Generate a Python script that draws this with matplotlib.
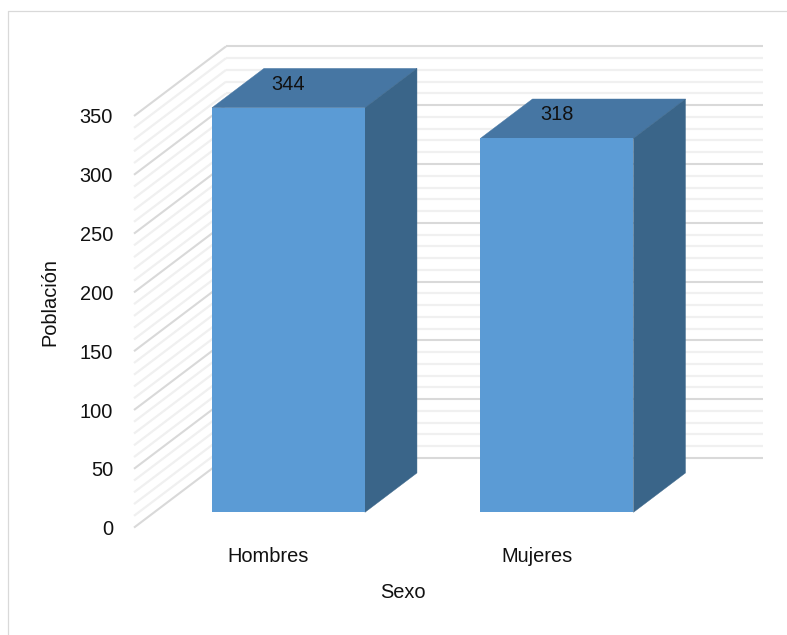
import matplotlib
matplotlib.use('Agg')
import matplotlib.pyplot as plt
from matplotlib.lines import Line2D
import numpy as np

categories = ['Hombres', 'Mujeres']
values = [344, 318]
yticks = [0, 50, 100, 150, 200, 250, 300, 350]

W, H = 787, 635
plt.rcParams['font.family'] = ['Liberation Sans Narrow', 'Liberation Sans', 'DejaVu Sans']
plt.rcParams['font.size'] = 14.4

fig = plt.figure(figsize=(W / 100, H / 100), dpi=100)
# front plane of the fake 3D box, in reference pixels
left, right, top, bottom = 134, 671, 116, 527.6
ax = fig.add_axes([left / W, 1 - bottom / H, (right - left) / W, (bottom - top) / H])
ax.set_xlim(-0.5, 1.5)
ax.set_ylim(0, 350)

# oblique depth: one full depth step in data units
px_per_cat = (right - left) / 2
px_per_val = (bottom - top) / 350
DX = 92 / px_per_cat
DY = 69.6 / px_per_val

grey_major = '#d9d9d9'
grey_minor = '#f0f0f0'

# Walls
for v in range(0, 351, 10):
    major = v % 50 == 0
    color = grey_major if major else grey_minor
    lw = 1.5 if major else 1.6
    # side wall
    ax.plot([-0.5, -0.5 + DX], [v, v + DY], color=color, lw=lw, clip_on=False, zorder=2 if major else 1,
            solid_capstyle='butt')
    # back wall
    ax.plot([-0.5 + DX, 1.5 + DX], [v + DY, v + DY], color=color, lw=lw, clip_on=False, zorder=2 if major else 1,
            solid_capstyle='butt')

# Bars
d0 = 0.22
d1 = 0.785
bw = 153 / px_per_cat
xs = np.arange(len(categories))
front = '#5b9bd5'
topc = '#4676a3'
side = '#3a6589'

for x, v in zip(xs, values):
    xl = x - bw / 2
    xr = x + bw / 2
    # top face
    ax.fill([xl + d0 * DX, xr + d0 * DX, xr + d1 * DX, xl + d1 * DX],
            [v + d0 * DY, v + d0 * DY, v + d1 * DY, v + d1 * DY],
            fc=topc, ec=topc, lw=0.3, clip_on=False, zorder=3)
    # side face
    ax.fill([xr + d0 * DX, xr + d1 * DX, xr + d1 * DX, xr + d0 * DX],
            [d0 * DY, d1 * DY, v + d1 * DY, v + d0 * DY],
            fc=side, ec=side, lw=0.3, clip_on=False, zorder=3)

ax.bar(xs + d0 * DX, values, width=bw, bottom=d0 * DY, color=front, clip_on=False, zorder=4)

# Data labels
for x, v in zip(xs, values):
    ax.annotate(str(v), xy=(x + d0 * DX, v + d0 * DY), xytext=(0, 17), textcoords='offset points',
                ha='center', va='center', color='#111111', annotation_clip=False, zorder=5)

# Tweak axes
for s in ax.spines.values():
    s.set_visible(False)
ax.patch.set_visible(False)
ax.set_yticks(yticks)
ax.set_xticks(xs)
ax.set_xticklabels(categories)
ax.tick_params(axis='y', length=0, pad=15, labelcolor='#111111')
ax.tick_params(axis='x', length=0, pad=14, labelcolor='#111111')
ax.set_xlabel('Sexo', labelpad=12, color='#111111')
ax.set_ylabel('Población', color='#111111')
ax.yaxis.set_label_coords((59 - left) / (right - left), (bottom - 302) / (bottom - top))

# Chart frame
fig.add_artist(Line2D([7.5 / W, 7.5 / W, 1], [0, 1 - 10.5 / H, 1 - 10.5 / H], color=grey_major, lw=0.9))

fig.savefig('out.png', dpi=100)
